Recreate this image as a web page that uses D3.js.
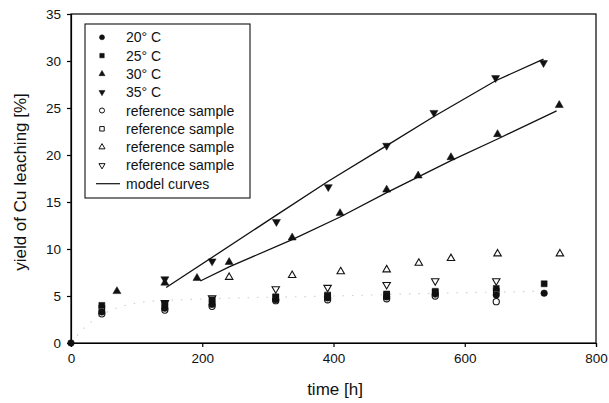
<!DOCTYPE html>
<html><head><meta charset="utf-8">
<script src="https://cdn.jsdelivr.net/npm/d3@7"></script>
<style>body{margin:0;background:#fff}svg{font-family:"Liberation Sans",Arial,sans-serif}</style>
</head><body>
<svg id="c" width="609" height="403"></svg>
<script>
// data
const t20 = [0,47,143,215,312,391,481,555,648,721];
const v20 = [0,3.3,3.7,4.1,4.6,4.8,4.9,5.2,5.1,5.3];
const t25 = [47,143,215,312,391,481,555,648,721];
const v25 = [4.0,4.2,4.6,4.9,5.0,5.1,5.5,5.8,6.3];
const t30 = [70,143,192,241,337,410,481,529,579,650,744];
const v30 = [5.5,6.4,6.9,8.6,11.2,13.8,16.3,17.8,19.75,22.2,25.3];
const t35 = [143,215,313,392,481,553,647,720];
const v35 = [6.8,8.7,12.9,16.6,21.0,24.5,28.2,29.8];
const tRef20 = [47,143,215,312,391,481,555,648];
const vRef20 = [3.1,3.5,3.9,4.5,4.6,4.7,5.0,4.4];
const tRef25 = [47,143,215,312,391,481,555,648];
const vRef25 = [3.7,4.0,4.4,4.9,5.1,5.2,5.4,5.5];
const tRef30 = [241,337,411,481,530,579,650,745];
const vRef30 = [7.0,7.2,7.6,7.8,8.5,9.0,9.5,9.5];
const tRef35 = [143,215,312,391,481,555,648];
const vRef35 = [4.3,4.8,5.75,5.9,6.2,6.6,6.6];
const tModel35 = [145,313,392,481,553,647,720];
const vModel35 = [5.9,13.6,17.2,21.0,24.1,27.9,30.2];
const tModel30 = [197,241,337,410,481,579,650,740];
const vModel30 = [6.6,8.1,11.0,13.4,16.0,19.4,21.7,24.7];
const tFaint = [0,20,47,117,169,260,400,560,720];
const vFaint = [0,1.6,3.0,4.4,4.6,4.8,5.0,5.3,5.5];
const xTicks = [0,200,400,600,800];
const yTicks = [0,5,10,15,20,25,30,35];
const legendLabels = ["20° C","25° C","30° C","35° C","reference sample","reference sample","reference sample","reference sample","model curves"];

const svg = d3.select("#c");
const x = d3.scaleLinear().domain([0,800]).range([71,596]);
const y = d3.scaleLinear().domain([0,35]).range([343,14]);

// frame
svg.append("rect").attr("x",71).attr("y",14).attr("width",525).attr("height",329)
  .attr("fill","none").attr("stroke","#000").attr("stroke-width",1.2);

const gx = svg.append("g").attr("transform","translate(0,343)")
  .call(d3.axisBottom(x).tickValues(xTicks).tickSize(4).tickPadding(6));
const gy = svg.append("g").attr("transform","translate(71,0)")
  .call(d3.axisLeft(y).tickValues(yTicks).tickSize(4).tickPadding(6));
[gx,gy].forEach(g=>{
  g.select(".domain").attr("stroke-width",1.2);
  g.selectAll("text").attr("font-size",13.5).attr("fill","#111").attr("font-family","Liberation Sans, Arial, sans-serif");
  g.selectAll("line").attr("stroke-width",1.2);
});

svg.append("text").attr("x",335).attr("y",395).attr("text-anchor","middle")
  .attr("font-size",17).attr("fill","#111").text("time [h]");
svg.append("text").attr("transform","translate(26,182) rotate(-90)").attr("text-anchor","middle")
  .attr("font-size",17).attr("fill","#111").text("yield of Cu leaching [%]");

const zip = (ts,vs)=>ts.map((t,i)=>[t,vs[i]]);
const line = d3.line().x(d=>x(d[0])).y(d=>y(d[1]));

// faint dotted curve
svg.append("path").attr("d",d3.line().x(d=>x(d[0])).y(d=>y(d[1])).curve(d3.curveMonotoneX)(zip(tFaint,vFaint)))
  .attr("fill","none").attr("stroke","#d0d0d0").attr("stroke-width",1.2).attr("stroke-dasharray","1.5,8");

// model curves
[[tModel35,vModel35],[tModel30,vModel30]].forEach(([ts,vs])=>{
  svg.append("path").attr("d",line(zip(ts,vs))).attr("fill","none").attr("stroke","#111").attr("stroke-width",1.3);
});

const mk = (type,size)=>d3.symbol().type(type).size(size)();
const series = [
  {ts:tRef20,vs:vRef20,p:mk(d3.symbolCircle,30),rot:0,filled:false},
  {ts:tRef25,vs:vRef25,p:mk(d3.symbolSquare,30),rot:0,filled:false},
  {ts:tRef30,vs:vRef30,p:mk(d3.symbolTriangle,24),rot:0,filled:false},
  {ts:tRef35,vs:vRef35,p:mk(d3.symbolTriangle,24),rot:180,filled:false},
  {ts:t20,vs:v20,p:mk(d3.symbolCircle,34),rot:0,filled:true},
  {ts:t25,vs:v25,p:mk(d3.symbolSquare,36),rot:0,filled:true},
  {ts:t30,vs:v30,p:mk(d3.symbolTriangle,28),rot:0,filled:true},
  {ts:t35,vs:v35,p:mk(d3.symbolTriangle,28),rot:180,filled:true}
];
series.forEach(s=>{
  svg.append("g").selectAll("path").data(zip(s.ts,s.vs)).join("path")
    .attr("d",s.p)
    .attr("transform",d=>`translate(${x(d[0])},${y(d[1])}) rotate(${s.rot})`)
    .attr("fill",s.filled?"#111":"#fff").attr("stroke","#111").attr("stroke-width",s.filled?0.5:1.1);
});

// legend
const lg = svg.append("g");
lg.append("rect").attr("x",85).attr("y",24).attr("width",165).attr("height",174)
  .attr("fill","#fff").attr("stroke","#111").attr("stroke-width",1.1);
const legSyms = [
  [d3.symbolCircle,0,true],[d3.symbolSquare,0,true],[d3.symbolTriangle,0,true],[d3.symbolTriangle,180,true],
  [d3.symbolCircle,0,false],[d3.symbolSquare,0,false],[d3.symbolTriangle,0,false],[d3.symbolTriangle,180,false]
];
legendLabels.forEach((lab,i)=>{
  const yy = 37.3 + i*18.3;
  if(i<8){
    const [tp,rot,f] = legSyms[i];
    lg.append("path").attr("d",mk(tp,tp===d3.symbolTriangle?16:20))
      .attr("transform",`translate(102,${yy}) rotate(${rot})`)
      .attr("fill",f?"#111":"#fff").attr("stroke","#111").attr("stroke-width",f?0.5:1);
  } else {
    lg.append("line").attr("x1",96).attr("x2",120).attr("y1",yy).attr("y2",yy).attr("stroke","#111").attr("stroke-width",1.2);
  }
  lg.append("text").attr("x",126).attr("y",yy+5).attr("font-size",14).attr("fill","#111").text(lab);
});
</script>
</body></html>
